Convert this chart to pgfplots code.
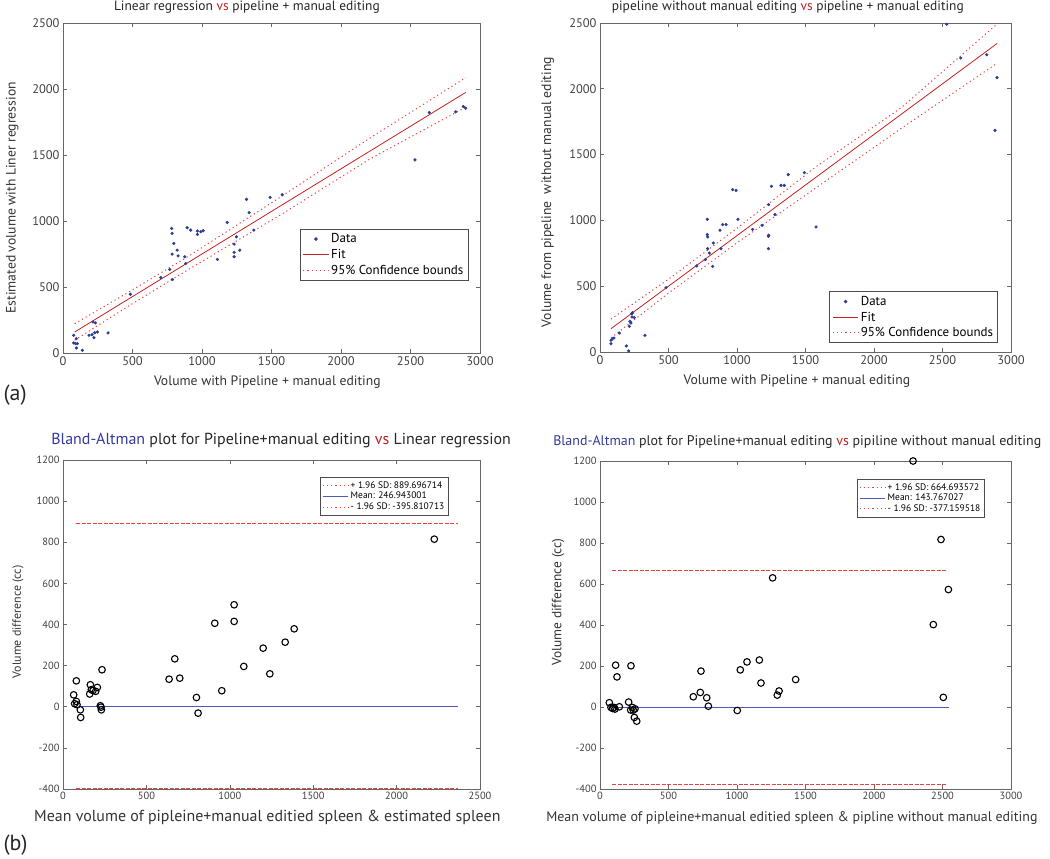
\documentclass[border=0pt]{standalone}
\usepackage{fontspec}
\setmainfont{PT Sans}
\usepackage{pgfplots}
\pgfplotsset{compat=1.18}
\definecolor{dotblue}{rgb}{0.16,0.24,0.58}
\definecolor{fitred}{rgb}{0.78,0.12,0.12}
\definecolor{bndred}{rgb}{0.92,0.25,0.25}
\definecolor{vsred}{rgb}{0.75,0.12,0.12}
\definecolor{bablue}{rgb}{0.20,0.22,0.60}
\definecolor{meanblue}{rgb}{0.30,0.35,0.75}
\pgfplotsset{
  every axis title shift=0pt,
  base/.style={scale only axis,
    axis line style={black!60}, tick style={black!60, line width=0.6bp},
    major tick length=4bp,
    scaled ticks=false,
    /pgf/number format/assume math mode=true,
    /pgf/number format/1000 sep={},
    ticklabel style={text=black!75},
    clip=false,
  },
  bnd/.style={color=bndred, line width=1bp, dash pattern=on 1.2bp off 3bp},
  limline/.style={color=bndred, line width=0.9bp, dash pattern=on 4bp off 1.5bp},
  topax/.style={base, width=417bp, height=330bp,
    xmin=0, xmax=3000, ymin=0, ymax=2500,
    xtick={0,500,...,3000}, ytick={0,500,...,2500},
    ticklabel style={font=\fontsize{12.5}{13}\selectfont},
    label style={font=\fontsize{13.7}{14}\selectfont, text=black!80},
    title style={font=\fontsize{13.5}{14}\selectfont, anchor=center, text=black!85},
    legend style={font=\fontsize{13}{14}\selectfont, draw=black!70, line width=0.7bp, cells={anchor=west}, inner sep=2.5bp, row sep=1bp},
    legend image code/.code={\draw[mark repeat=2,mark phase=2,#1] plot coordinates {(0cm,0cm) (0.45cm,0cm) (0.9cm,0cm)};},
  },
  baax/.style={base, width=417bp, height=329bp,
    ymin=-400, ymax=1200, ytick={-400,-200,...,1200},
    ticklabel style={font=\fontsize{10.5}{11}\selectfont},
    title style={font=\fontsize{16}{17}\selectfont, anchor=center, text=black!85},
    legend style={font=\fontsize{9.5}{10}\selectfont, draw=black!70, line width=0.7bp, cells={anchor=west}, inner sep=2bp, row sep=-1.5bp},
    legend image code/.code={\draw[#1] (0cm,0cm) -- (0.9cm,0cm);},
  },
}
\begin{document}
\begin{tikzpicture}
\path[use as bounding box] (0,0) rectangle (1050bp,859bp);
% ---------------- Top left ----------------
\begin{axis}[topax, at={(63bp,506bp)}, anchor=south west,
  title={Linear regression {\color{vsred}vs} pipeline + manual editing},
  title style={at={(0.441,1.048)}},
  xlabel={Volume with Pipeline + manual editing},
  xlabel style={at={(0.49,-0.088)}, anchor=center},
  ylabel={Estimated volume with Liner regression},
  ylabel style={at={(-0.122,0.47)}, anchor=center},
  legend style={at={(0.568,0.376)}, anchor=north west},
]
\addplot[only marks, mark=*, mark size=1.4bp, color=dotblue] coordinates {
(77,134)(77,76)(96,109)(91,71)(103,71)(96,38)(139,20)(216,235)(233,228)(187,134)
(209,139)(223,116)(228,154)(247,159)(324,152)(485,445)(703,572)(768,633)(787,557)
(785,906)(782,944)(785,749)(797,830)(821,779)(828,736)(876,729)(883,678)(893,949)
(919,931)(967,898)(967,924)(991,918)(1008,926)(1111,709)(1181,989)(1231,825)
(1231,762)(1231,729)(1248,880)(1272,779)(1320,1164)(1339,1063)(1373,931)(1490,1179)
(1577,1199)(2532,1463)(2635,1822)(2825,1827)(2880,1867)(2897,1855)};
\addlegendentry{Data}
\addplot[color=fitred, line width=0.8bp] coordinates {(84,159)(2897,1974)};
\addlegendentry{Fit}
\addplot[bnd] coordinates {(84,222)(500,478)(900,731)(1577,1190)(2200,1623)(2897,2086)};
\addlegendentry{95\% Confidence bounds}
\addplot[bnd, forget plot] coordinates {(84,97)(500,374)(900,631)(1577,1054)(2200,1465)(2897,1862)};
\end{axis}
% ---------------- Top right ----------------
\begin{axis}[topax, at={(600bp,507bp)}, anchor=south west, width=411bp, height=329bp,
  title={pipeline without manual editing {\color{vsred}vs} pipeline + manual editing},
  title style={at={(0.457,1.049)}},
  xlabel={Volume with Pipeline + manual editing},
  xlabel style={at={(0.479,-0.088)}, anchor=center},
  ylabel={Volume from pipeline\ \ without manual editing},
  ylabel style={at={(-0.127,0.486)}, anchor=center},
  legend style={at={(0.968,0.027)}, anchor=south east},
]
\addplot[only marks, mark=*, mark size=1.4bp, color=dotblue] coordinates {
(80,63)(80,89)(92,101)(102,106)(141,144)(192,46)(209,8)(214,195)(219,233)(226,220)
(231,291)(238,299)(234,266)(251,261)(328,127)(482,489)(706,654)(769,702)(783,1008)
(783,892)(786,874)(786,785)(798,752)(827,828)(822,651)(876,925)(883,785)(895,968)
(920,968)(968,1234)(993,1228)(1007,1008)(1114,932)(1183,963)(1231,1120)(1229,879)
(1231,887)(1229,785)(1251,1259)(1277,1044)(1321,1266)(1345,1266)(1374,1348)
(1492,1363)(1577,950)(2531,2490)(2633,2234)(2823,2259)(2883,1684)(2898,2085)};
\addlegendentry{Data}
\addplot[color=fitred, line width=0.8bp] coordinates {(80,177)(2898,2344)};
\addlegendentry{Fit}
\addplot[bnd] coordinates {(80,250)(500,553)(1000,940)(1577,1408)(2200,1857)(2898,2492)};
\addlegendentry{95\% Confidence bounds}
\addplot[bnd, forget plot] coordinates {(80,107)(500,447)(1000,830)(1577,1248)(2200,1700)(2898,2194)};
\end{axis}
% ---------------- Bottom left ----------------
\begin{axis}[baax, at={(63bp,70bp)}, anchor=south west,
  xmin=0, xmax=2500, xtick={0,500,...,2500},
  title={{\color{bablue}Bland-Altman} plot for Pipeline+manual editing {\color{vsred}vs} Linear regression},
  title style={at={(0.523,1.058)}},
  xlabel={Mean volume of pipleine+manual editied spleen \& estimated spleen},
  xlabel style={at={(0.49,-0.085)}, anchor=center, font=\fontsize{16}{17}\selectfont, text=black!80},
  ylabel={Volume difference (cc)},
  ylabel style={at={(-0.108,0.508)}, anchor=center, font=\fontsize{12}{13}\selectfont, text=black!80},
  legend style={at={(0.616,0.948)}, anchor=north west},
]
\addplot[only marks, mark=o, mark size=3.3bp, black, line width=1.1bp, forget plot] coordinates {
(64,58)(80,126)(70,15)(80,26)(84,10)(104,-15)(106,-52)(160,62)(164,107)(170,83)
(180,79)(196,75)(206,94)(224,5)(230,-15)(234,180)(228,-2)(636,134)(670,233)(700,139)
(800,45)(810,-31)(910,406)(952,78)(1026,496)(1026,415)(1084,196)(1200,285)(1240,160)
(1332,314)(1386,379)(2226,815)};
\addplot[limline, forget plot] coordinates {(80,889.696714)(2370,889.696714)};
\addplot[color=meanblue, line width=0.9bp, forget plot] coordinates {(100,0)(2370,0)};
\addplot[limline, forget plot] coordinates {(80,-395.810713)(2370,-395.810713)};
\addlegendimage{bnd}
\addlegendentry{+ 1.96 SD: 889.696714}
\addlegendimage{color=meanblue, line width=0.9bp}
\addlegendentry{Mean: 246.943001}
\addlegendimage{bnd}
\addlegendentry{- 1.96 SD: -395.810713}
\end{axis}
% ---------------- Bottom right ----------------
\begin{axis}[baax, at={(600bp,70bp)}, anchor=south west, width=411bp, height=328bp,
  xmin=0, xmax=3000, xtick={0,500,...,3000},
  title={{\color{bablue}Bland-Altman} plot for Pipeline+manual editing {\color{vsred}vs} pipiline without manual editing},
  title style={at={(0.48,1.058)}, font=\fontsize{14}{15}\selectfont},
  xlabel={Mean volume of pipleine+manual editied spleen \& pipline without manual editing},
  xlabel style={at={(0.467,-0.088)}, anchor=center, font=\fontsize{14}{15}\selectfont, text=black!80},
  ylabel={Volume difference (cc)},
  ylabel style={at={(-0.102,0.57)}, anchor=center, font=\fontsize{13.5}{14}\selectfont, text=black!80},
  legend style={at={(0.625,0.945)}, anchor=north west},
]
\addplot[only marks, mark=o, mark size=3.3bp, black, line width=1.1bp, forget plot] coordinates {
(68,21)(80,-2)(92,-7)(109,-10)(102,-2)(114,204)(124,147)(141,1)(209,24)(226,201)
(224,-15)(236,-2)(243,-15)(255,-9)(251,-51)(268,-69)(681,50)(732,71)(737,175)(779,45)
(791,4)(1002,-17)(1024,181)(1073,220)(1163,229)(1175,117)(1260,630)(1294,58)(1307,78)
(1428,134)(2285,1200)(2433,402)(2489,817)(2506,47)(2543,573)};
\addplot[limline, forget plot] coordinates {(90,664.693572)(2530,664.693572)};
\addplot[color=meanblue, line width=0.9bp, forget plot] coordinates {(90,0)(2545,0)};
\addplot[limline, forget plot] coordinates {(90,-377.159518)(2530,-377.159518)};
\addlegendimage{bnd}
\addlegendentry{+ 1.96 SD: 664.693572}
\addlegendimage{color=meanblue, line width=0.9bp}
\addlegendentry{Mean: 143.767027}
\addlegendimage{bnd}
\addlegendentry{- 1.96 SD: -377.159518}
\end{axis}
\node[anchor=west, font=\fontsize{22}{24}\selectfont, text=black!85] at (0bp,464bp) {(a)};
\node[anchor=west, font=\fontsize{22}{24}\selectfont, text=black!85] at (0bp,14bp) {(b)};
\end{tikzpicture}
\end{document}
